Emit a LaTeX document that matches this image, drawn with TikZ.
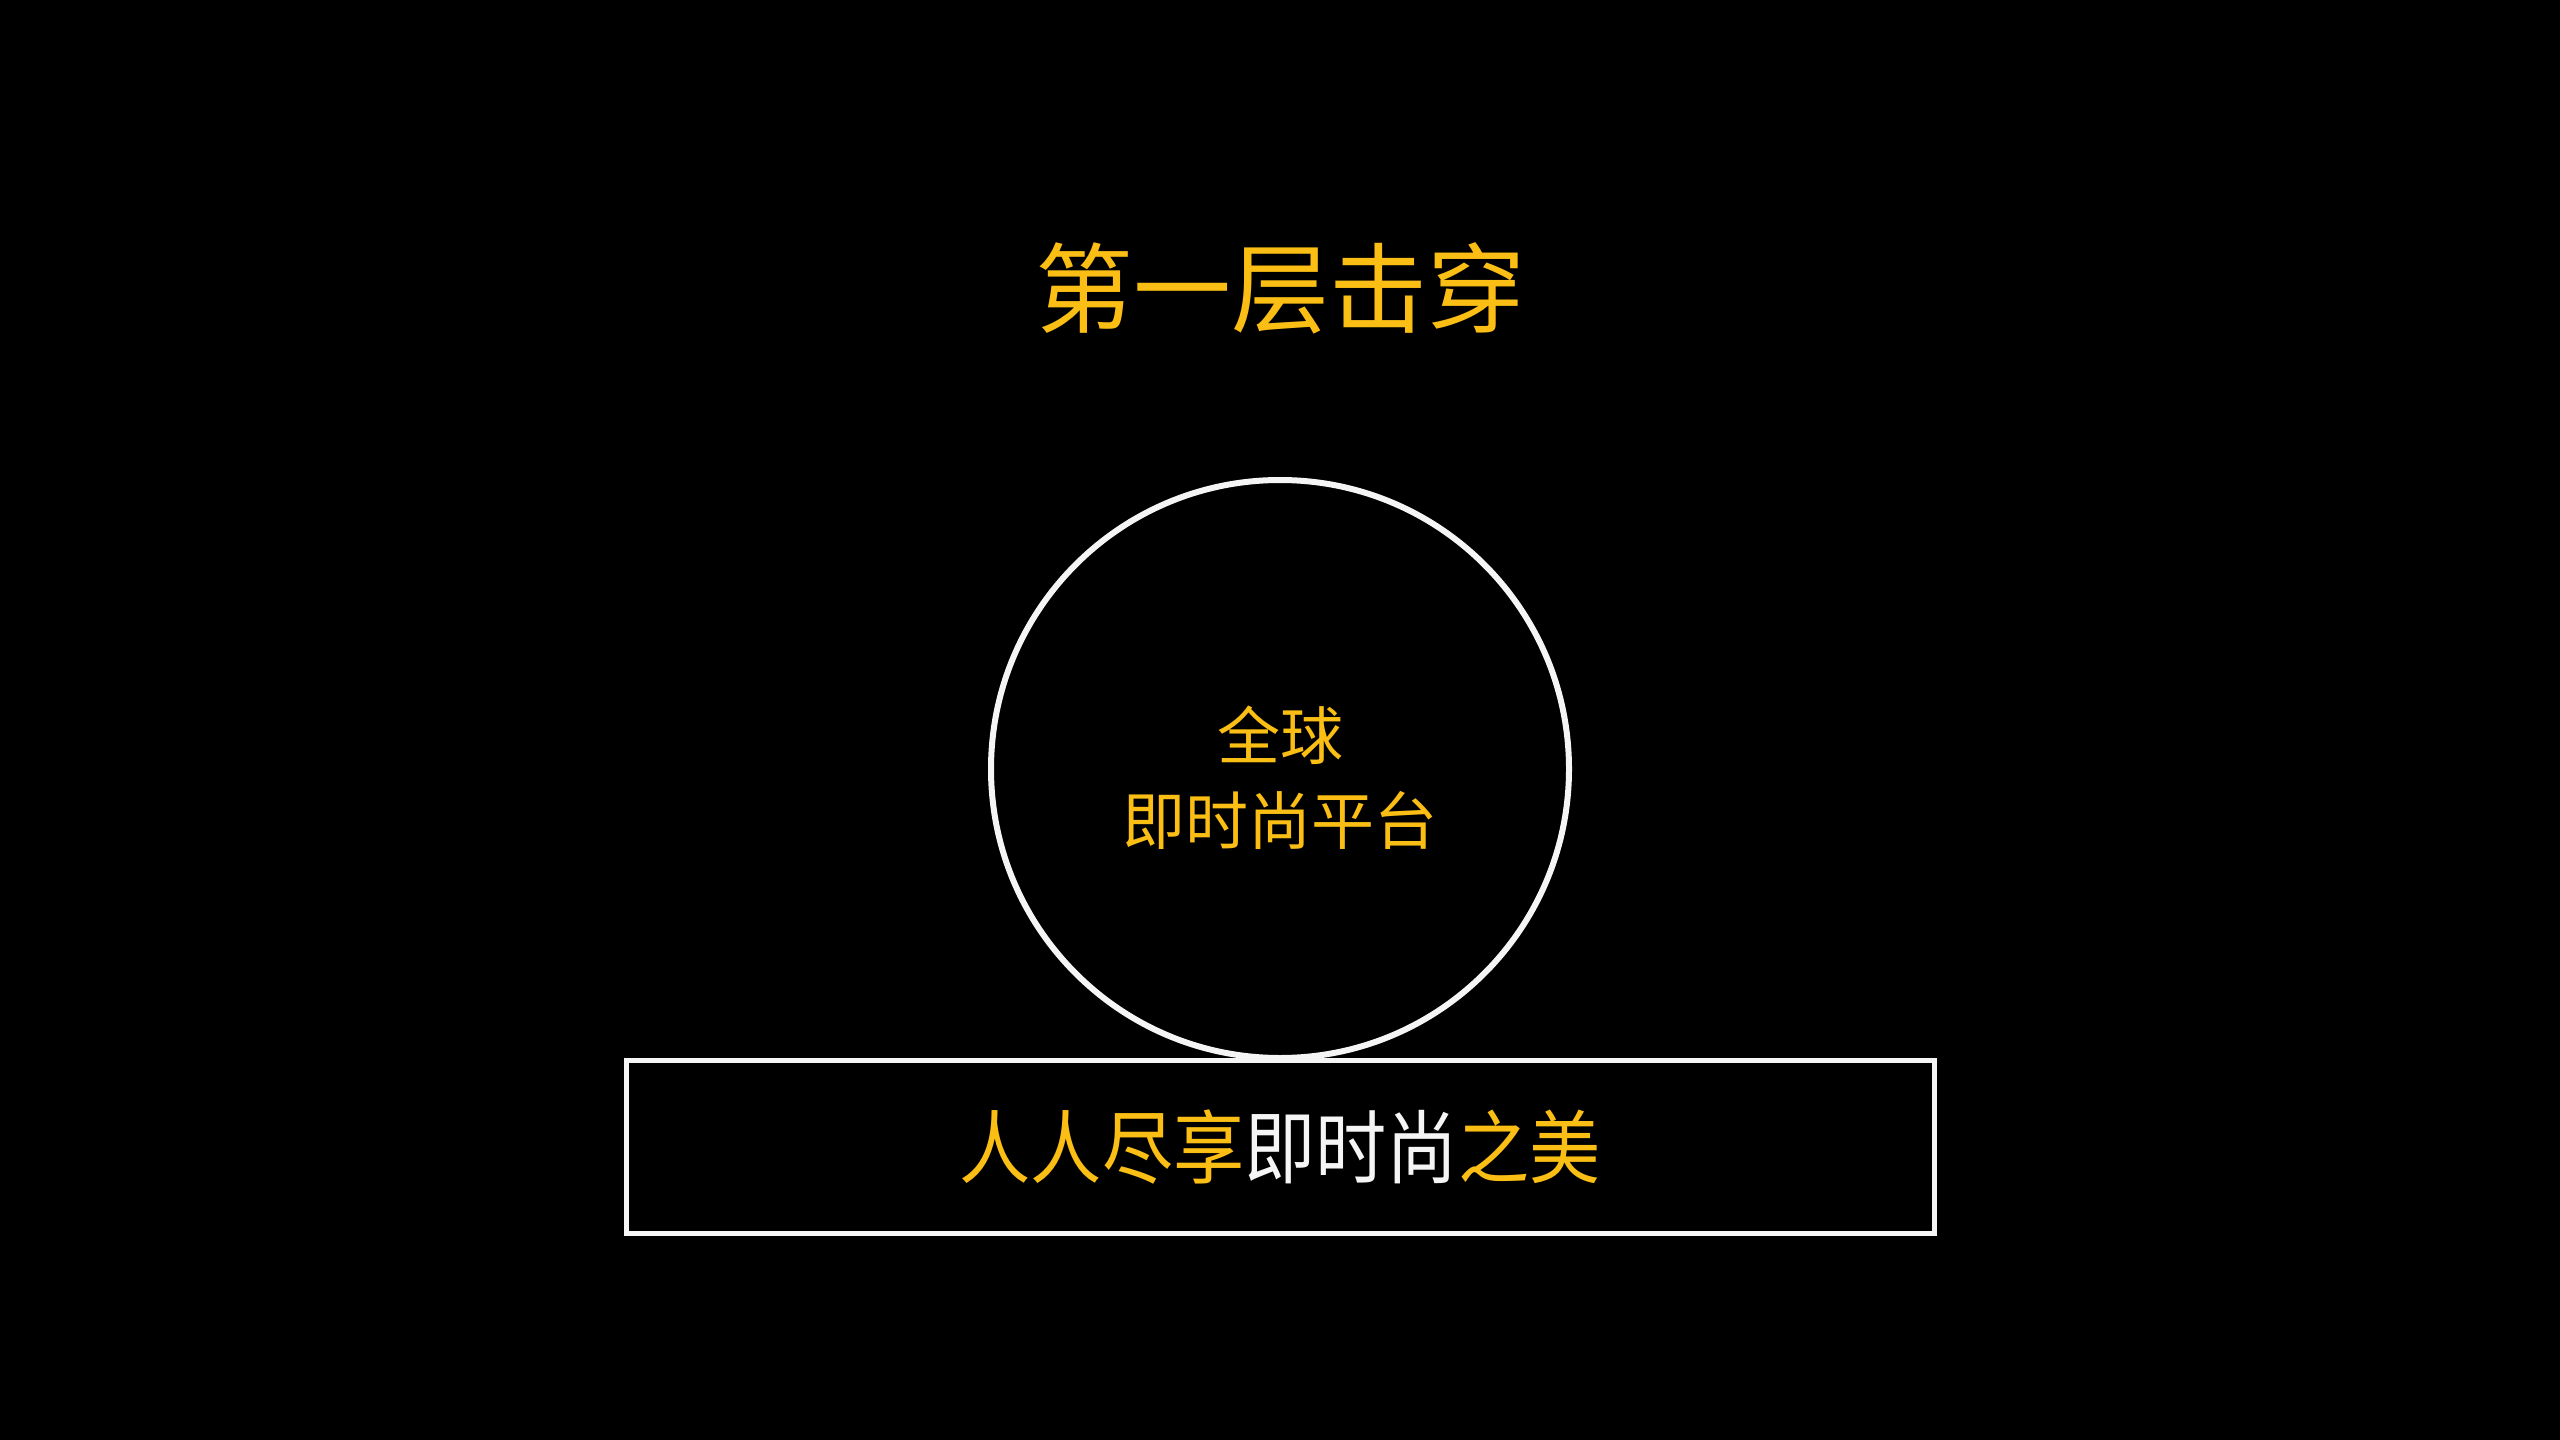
\documentclass[tikz,border=0pt]{standalone}
\usepackage{fontspec}
\newfontfamily\cjk{Noto Sans CJK SC}
\newfontfamily\cjknarrow[FakeStretch=0.89]{Noto Sans CJK SC}
\definecolor{gold}{RGB}{250,190,20}
\definecolor{offwhite}{RGB}{245,245,245}
\begin{document}
\begin{tikzpicture}[x=1pt,y=-1pt,
  titletext/.style={text=gold,font=\cjk\fontsize{98}{118}\selectfont,inner sep=0pt},
  globeshape/.style={circle,draw=offwhite,line width=6pt,minimum size=578pt,inner sep=0pt},
  globetext/.style={text=gold,align=center,font=\cjk\fontsize{63}{85}\selectfont,inner sep=0pt},
  basebox/.style={draw=offwhite,line width=5pt,minimum width=1308pt,minimum height=173pt,inner sep=0pt,
     font=\cjknarrow\fontsize{80}{96}\selectfont}]
\fill[black] (0,0) rectangle (2560,1440);
\useasboundingbox (0,0) rectangle (2560,1440);
\node[titletext] (title) at (1280,288) {第一层击穿};
\node[globeshape] (globe) at (1280,769) {};
\node[globetext] (globetext) at (1280,778) {全球\\即时尚平台};
\node[basebox] (base) at (1280,1147) {{\color{gold}人人尽享}{\color{offwhite}即时尚}{\color{gold}之美}};
\end{tikzpicture}
\end{document}
